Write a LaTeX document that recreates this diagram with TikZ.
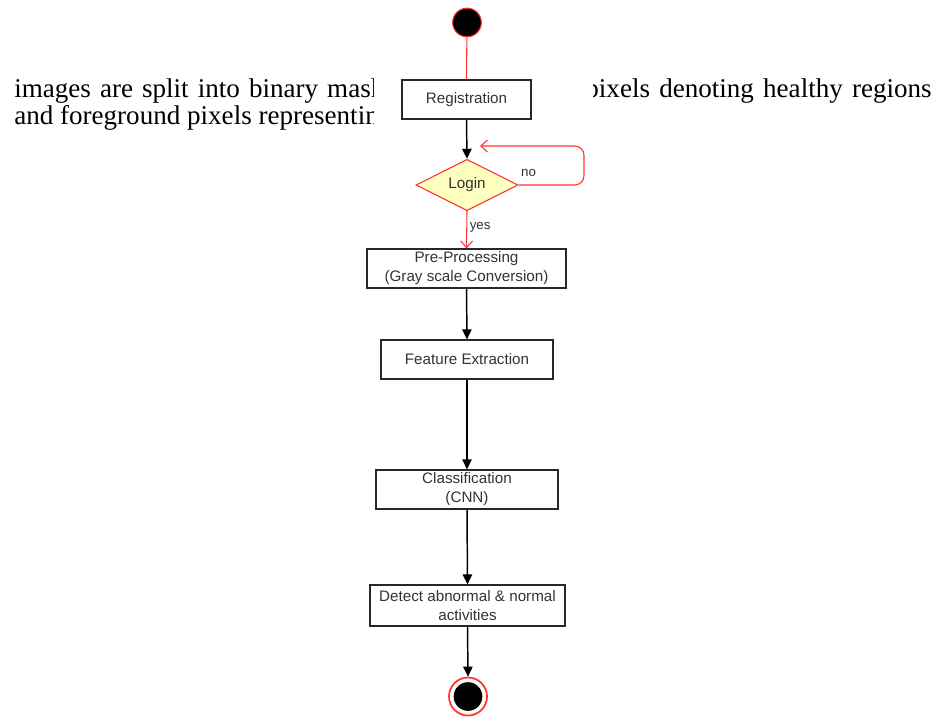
\documentclass[tikz,border=0pt]{standalone}
\usepackage{fontspec}
\setmainfont{Liberation Serif}
\newfontfamily\diagfont{Liberation Sans}
\usetikzlibrary{shapes.geometric,arrows.meta}
\definecolor{umlred}{RGB}{255,51,51}
\definecolor{umlyellow}{RGB}{255,255,192}
\definecolor{boxline}{RGB}{40,40,40}
\begin{document}
\begin{tikzpicture}[x=0.75pt,y=-0.75pt,
  actbox/.style={draw=boxline,line width=0.9pt,fill=white,inner sep=0pt,align=center,
    font=\diagfont\fontsize{11.4}{14.25}\selectfont,text=black!80},
  flow/.style={draw=black,line width=1.1pt,-{Triangle[length=7.5pt,width=7pt]}},
  redflow/.style={draw=umlred,line width=0.8pt,-{Straight Barb[length=5pt,width=9pt,line width=0.8pt]}},
  lbl/.style={font=\diagfont\fontsize{10}{11}\selectfont,text=black!80,inner sep=0pt},
  bodytext/.style={font=\fontsize{20.3}{22}\selectfont,inner sep=0pt,anchor=base west}]
\useasboundingbox (0,0) rectangle (937,718);
\fill[white] (0,0) rectangle (937,718);
% background text fragments (partly hidden by the diagram)
\begin{scope}
  \clip (0,60) rectangle (373,140);
  \node[bodytext] (t1) at (14,97) {images\hspace{0.335em}are\hspace{0.335em}split\hspace{0.335em}into\hspace{0.335em}binary\hspace{0.335em}masks};
  \node[bodytext] (t2) at (14,124) {and foreground pixels representing};
\end{scope}
\begin{scope}
  \clip (593,60) rectangle (937,110);
  \node[bodytext,anchor=base east] (t3) at (932,97) {pixels\hspace{0.34em}denoting\hspace{0.34em}healthy\hspace{0.34em}regions};
\end{scope}
% nodes
\node[circle,fill=black,draw=umlred,line width=0.8pt,minimum size=21.5pt,inner sep=0pt] (start) at (467,22.5) {};
\node[actbox,minimum width=96.75pt,minimum height=29.25pt] (reg) at (466.5,99.5) {Registration};
\node[diamond,draw=umlred,fill=umlyellow,line width=0.8pt,minimum width=76.5pt,minimum height=37.5pt,inner sep=0pt,
  font=\diagfont\fontsize{11.4}{12}\selectfont,text=black!80] (login) at (467,185) {Login};
\node[actbox,minimum width=149.25pt,minimum height=29.25pt] (pre) at (466.5,268.5) {Pre-Processing\\(Gray scale Conversion)};
\node[actbox,minimum width=129pt,minimum height=29.25pt] (feat) at (467,359.5) {Feature Extraction};
\node[actbox,minimum width=136.5pt,minimum height=29.25pt] (cls) at (467,489.5) {Classification\\(CNN)};
\node[actbox,minimum width=146.25pt,minimum height=30.75pt] (det) at (467.5,605.5) {Detect abnormal \& normal\\activities};
\node[circle,fill=white,draw=umlred,line width=1.3pt,minimum size=28.5pt,inner sep=0pt] (stop) at (468,696.5) {};
\node[circle,fill=black,minimum size=21.5pt,inner sep=0pt] (stopin) at (stop.center) {};
\coordinate (loopcorner) at (584,146);
\coordinate (loopend) at (480,146);
% connectors
\draw[draw=umlred,line width=0.8pt] (start) -- (reg.north);
\draw[flow] (reg.south) -- (login.north);
\draw[redflow,rounded corners=7pt] (login.east) -| (loopcorner) -- (loopend);
\draw[redflow] (login.south) -- (pre.north);
\draw[flow] (pre.south) -- (feat.north);
\draw[flow] (feat.south) -- (cls.north);
\draw[flow] (cls.south) -- (det.north);
\draw[flow] (det.south) -- (stop.north);
% labels
\node[lbl] (nolbl) at (528.5,173) {no};
\node[lbl,anchor=west] (yeslbl) at (469.5,227.5) {yes};
\end{tikzpicture}
\end{document}
